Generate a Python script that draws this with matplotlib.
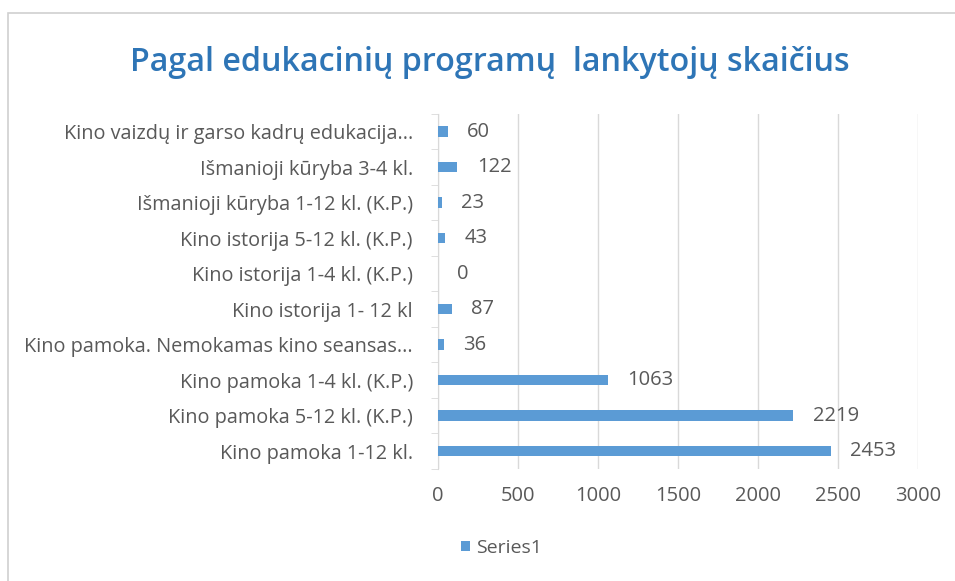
import matplotlib.pyplot as plt
from matplotlib.patches import Rectangle

# duomenys (iš viršaus į apačią)
categories = [
    "Kino vaizdų ir garso kadrų edukacija...",
    "Išmanioji kūryba 3-4 kl.",
    "Išmanioji kūryba 1-12 kl. (K.P.)",
    "Kino istorija 5-12 kl. (K.P.)",
    "Kino istorija 1-4 kl. (K.P.)",
    "Kino istorija 1- 12 kl",
    "Kino pamoka. Nemokamas kino seansas...",
    "Kino pamoka 1-4 kl. (K.P.)",
    "Kino pamoka 5-12 kl. (K.P.)",
    "Kino pamoka 1-12 kl.",
]
values = [60, 122, 23, 43, 0, 87, 36, 1063, 2219, 2453]
x_ticks = [0, 500, 1000, 1500, 2000, 2500, 3000]

bar_color = "#5B9BD5"
text_color = "#595959"

plt.rcParams["font.family"] = ["Open Sans", "DejaVu Sans"]

fig = plt.figure(figsize=(9.55, 5.81), dpi=100)

# rėmelis aplink diagramą
fig.patches.append(Rectangle((8 / 955, -0.1), 1.1, 1.1 - 13 / 581, transform=fig.transFigure,
                             fill=False, edgecolor="#D0D0D0", linewidth=1.2))

ax = fig.add_axes([0.4586, 0.193, 0.5027, 0.611])

y = list(range(len(categories)))[::-1]
ax.barh(y, values, height=0.3, color=bar_color, label="Series1", zorder=3)

for yi, v in zip(y, values):
    ax.annotate(str(v), (v, yi), xytext=(14, 0), textcoords="offset points",
                va="center", ha="left", fontsize=14.5, color=text_color)

ax.set_yticks(y)
ax.set_yticklabels(categories, fontsize=14.3, color=text_color)
ax.set_yticks([i + 0.5 for i in range(-1, len(categories))], minor=True)
ax.set_ylim(-0.5, len(categories) - 0.5)
ax.set_xlim(0, 3000)
ax.set_xticks(x_ticks)
ax.set_xticklabels([str(t) for t in x_ticks], fontsize=14.5, color=text_color)

ax.grid(axis="x", color="#D9D9D9", linewidth=1, zorder=0)
for s in ["top", "right", "bottom"]:
    ax.spines[s].set_visible(False)
ax.spines["left"].set_color("#D9D9D9")
ax.tick_params(axis="y", which="major", length=0, pad=18)
ax.tick_params(axis="y", which="minor", length=5, color="#D9D9D9")
ax.tick_params(axis="x", length=0, pad=12)

fig.text(0.513, 0.893, "Pagal edukacinių programų  lankytojų skaičius", ha="center", va="center",
         fontsize=23.2, fontweight="semibold", color="#2E75B6")

fig.legend(loc="center", bbox_to_anchor=(0.525, 0.057), frameon=False, fontsize=14,
           handlelength=0.45, handleheight=0.45, labelcolor=text_color, handletextpad=0.3)

fig.savefig("out.png", dpi=100)
